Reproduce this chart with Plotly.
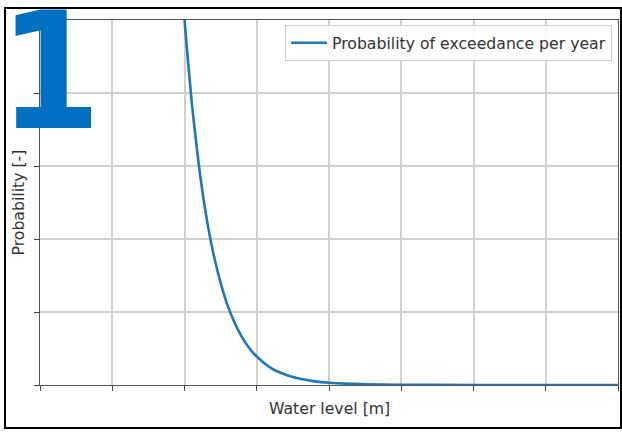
import plotly.graph_objects as go

# Water level [m] and yearly exceedance probability along the curve
water_level = [1.95, 2.0, 2.1, 2.2, 2.3, 2.4, 2.5, 2.6, 2.7, 2.8, 2.9, 3.0,
               3.2, 3.4, 3.6, 3.8, 4.0, 4.5, 5.0, 6.0, 7.0, 8.0]
exceedance = [5.65, 5.0, 3.87, 3.0, 2.32, 1.80, 1.40, 1.08, 0.84, 0.65, 0.50, 0.39,
              0.23, 0.14, 0.085, 0.05, 0.03, 0.01, 0.004, 0.0005, 0.0001, 0.0]

x_ticks = [0, 1, 2, 3, 4, 5, 6, 7, 8]
y_ticks = [0, 1, 2, 3, 4, 5]

series_name = "Probability of exceedance per year"
x_title = "Water level [m]"
y_title = "Probability [-]"
badge = "1"

W, H = 622, 432
L, R, T, B = 40, 4, 20, 47
pw, ph = W - L - R, H - T - B
TEXT_SIZE = 15.7


def px_x(px):
    return (px - L) / pw


def px_y(py):
    return (H - B - py) / ph


fig = go.Figure()
fig.add_trace(go.Scatter(
    x=water_level, y=exceedance, mode="lines", name=series_name,
    line=dict(color="#1f77b4", width=2.6, shape="spline", smoothing=0.6),
))

axis_common = dict(
    showticklabels=False, ticks="outside", ticklen=5, tickwidth=1.2,
    tickcolor="#444444", showgrid=True, gridcolor="#cfcfcf", gridwidth=1.5,
    showline=True, linecolor="#555555", linewidth=1.4, mirror=True,
    zeroline=False, fixedrange=True,
)
fig.update_xaxes(range=[0, 8], tickvals=x_ticks, **axis_common)
fig.update_yaxes(range=[0, 5], tickvals=y_ticks, **axis_common)

fig.update_layout(
    width=W, height=H,
    margin=dict(l=L, r=R, t=T, b=B),
    paper_bgcolor="white", plot_bgcolor="white",
    font=dict(family="DejaVu Sans", color="#333333", size=TEXT_SIZE),
    showlegend=True,
    legend=dict(
        x=px_x(612), y=px_y(25), xanchor="right", yanchor="top",
        bgcolor="rgba(255,255,255,0.85)", bordercolor="#cccccc", borderwidth=1,
        font=dict(size=TEXT_SIZE, color="#333333"), itemwidth=36,
    ),
    annotations=[
        dict(text=x_title, xref="paper", yref="paper", x=0.5, y=px_y(408),
             xanchor="center", yanchor="middle", showarrow=False,
             font=dict(size=TEXT_SIZE, color="#333333")),
        dict(text=y_title, xref="paper", yref="paper", x=px_x(18), y=0.5,
             xanchor="center", yanchor="middle", textangle=-90, showarrow=False,
             font=dict(size=TEXT_SIZE, color="#333333")),
        dict(text="<b>" + badge + "</b>", xref="paper", yref="paper",
             x=px_x(50), y=px_y(71), xanchor="center", yanchor="middle",
             showarrow=False,
             font=dict(family="DejaVu Sans Condensed", size=163, color="#0070c0")),
    ],
    shapes=[
        dict(type="rect", xref="paper", yref="paper",
             x0=px_x(5), x1=px_x(621), y0=px_y(428), y1=px_y(8),
             line=dict(color="black", width=2), layer="above"),
    ],
)

fig.write_html("out.html")
